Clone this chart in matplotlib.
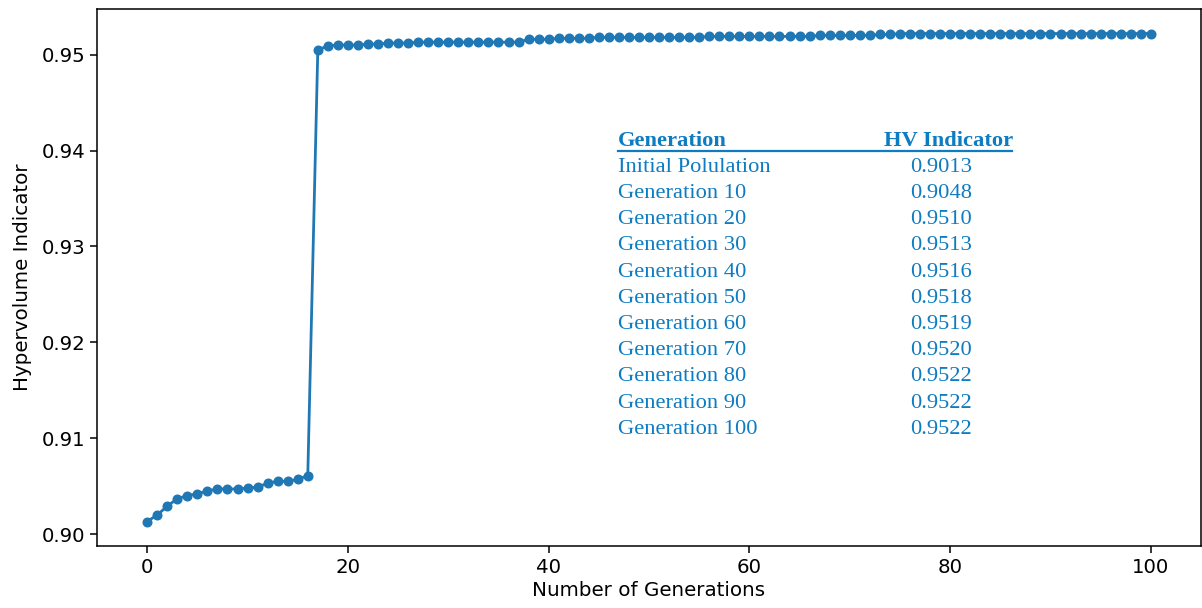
import matplotlib
matplotlib.use("Agg")
import matplotlib.pyplot as plt
from matplotlib.lines import Line2D

generations = list(range(0, 101))
hv_values = [
    0.9013, 0.9020, 0.9029, 0.9037, 0.9040, 0.9042, 0.9045, 0.9047, 0.9047, 0.9047,
    0.9048, 0.9049, 0.9053, 0.9055, 0.9055, 0.9057, 0.9061, 0.9505, 0.9509, 0.9510,
    0.9510, 0.9510, 0.9511, 0.9511, 0.9512, 0.9512, 0.9512, 0.9513, 0.9513, 0.9513,
    0.9513, 0.9513, 0.9513, 0.9513, 0.9513, 0.9513, 0.9513, 0.9513, 0.9516, 0.9516,
    0.9516, 0.9517, 0.9517, 0.9517, 0.9517, 0.9518, 0.9518, 0.9518, 0.9518, 0.9518,
    0.9518, 0.9518, 0.9518, 0.9518, 0.9518, 0.9518, 0.9519, 0.9519, 0.9519, 0.9519,
    0.9519, 0.9519, 0.9519, 0.9519, 0.9519, 0.9519, 0.9519, 0.9520, 0.9520, 0.9520,
    0.9520, 0.9520, 0.9520, 0.9521, 0.9521, 0.9522, 0.9522, 0.9522, 0.9522, 0.9522,
    0.9522, 0.9522, 0.9522, 0.9522, 0.9522, 0.9522, 0.9522, 0.9522, 0.9522, 0.9522,
    0.9522, 0.9522, 0.9522, 0.9522, 0.9522, 0.9522, 0.9522, 0.9522, 0.9522, 0.9522,
    0.9522,
]

table_header = ["Generation", "HV Indicator"]
table_labels = ["Initial Polulation", "Generation 10", "Generation 20", "Generation 30",
                "Generation 40", "Generation 50", "Generation 60", "Generation 70",
                "Generation 80", "Generation 90", "Generation 100"]
table_values = ["0.9013", "0.9048", "0.9510", "0.9513", "0.9516", "0.9518",
                "0.9519", "0.9520", "0.9522", "0.9522", "0.9522"]

line_color = "#1f77b4"
table_color = "#0E7CC1"

fig = plt.figure(figsize=(12.02, 6.08), dpi=100)
ax = fig.add_axes([0.0807, 0.102, 0.9185, 0.883])

ax.plot(generations, hv_values, color=line_color, linewidth=2.0,
        marker="o", markersize=6.2)

ax.set_xlabel("Number of Generations", fontsize=14.3, labelpad=3)
ax.set_ylabel("Hypervolume Indicator", fontsize=14.3, labelpad=7)
ax.tick_params(axis="both", labelsize=14.2, length=5, width=1.1)
ax.set_xticks([0, 20, 40, 60, 80, 100])
ax.set_yticks([0.90, 0.91, 0.92, 0.93, 0.94, 0.95])
ax.set_yticklabels(["0.90", "0.91", "0.92", "0.93", "0.94", "0.95"])
for s in ax.spines.values():
    s.set_linewidth(1.1)

serif = ["Liberation Serif", "DejaVu Serif"]
fs = 16.2
x_left = 0.472
x_val = 0.7645
y_head = 0.754
dy = 0.0488
ax.text(x_left, y_head, table_header[0], transform=ax.transAxes, fontsize=fs,
        family=serif, fontweight="bold", color=table_color, ha="left", va="center")
ax.text(0.771, y_head, table_header[1], transform=ax.transAxes, fontsize=fs,
        family=serif, fontweight="bold", color=table_color, ha="center", va="center")
ax.add_line(Line2D([0.472, 0.829], [0.7356, 0.7356], transform=ax.transAxes,
                   color=table_color, linewidth=1.6))
for i, (lab, val) in enumerate(zip(table_labels, table_values)):
    y = y_head - dy * (i + 1)
    ax.text(x_left, y, lab, transform=ax.transAxes, fontsize=fs,
            family=serif, color=table_color, ha="left", va="center")
    ax.text(x_val, y, val, transform=ax.transAxes, fontsize=fs,
            family=serif, color=table_color, ha="center", va="center")

fig.savefig("out.png", dpi=100)
